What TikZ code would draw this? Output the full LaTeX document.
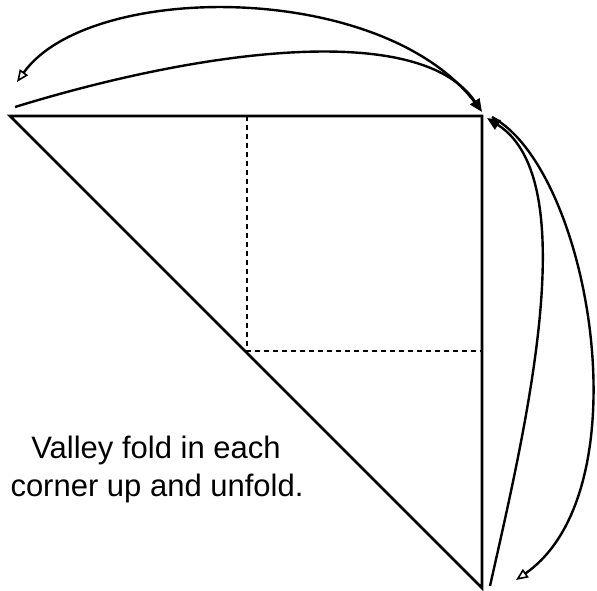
\documentclass[tikz,border=0pt]{standalone}
\usepackage{fontspec}
\setmainfont{Liberation Sans}
\usetikzlibrary{arrows.meta}
\begin{document}
\begin{tikzpicture}[x=1pt,y=-1pt,
  edge/.style={line width=2.8pt, line join=miter},
  fold/.style={line width=2.2pt, dash pattern=on 5pt off 4pt},
  arr/.style={line width=2.4pt, -{Triangle[length=13pt,width=11pt]}},
  oarr/.style={line width=2.4pt, -{Triangle[open,length=12pt,width=10pt,fill=white,line width=1.6pt]}},
  lbl/.style={font=\fontsize{31}{38}\selectfont, anchor=base, inner sep=0pt}]
\useasboundingbox (0,0) rectangle (597,591);
\coordinate (TL) at (10,116);
\coordinate (TR) at (482,116);
\coordinate (BR) at (482,588);
\coordinate (M) at (247,351);
\coordinate (MT) at (247,116);
\coordinate (MR) at (482,351);
% folds
\draw[fold] (MT) -- (M) -- (MR);
% triangle
\draw[edge] (TL) -- (TR) -- (BR) -- cycle;
% top arrows
\coordinate (a1s) at (15,107);
\coordinate (a1e) at (482,112);
\coordinate (a2s) at (479,108);
\coordinate (a2e) at (17,82);
\draw[arr] (a1s) .. controls (200,50) and (420,20) .. (a1e);
\draw[oarr] (a2s) .. controls (390,-20) and (90,-20) .. (a2e);
% right arrows
\coordinate (b1s) at (490,586);
\coordinate (b1e) at (487,118);
\coordinate (b2s) at (492,117);
\coordinate (b2e) at (516,580);
\draw[arr] (b1s) .. controls (525,430) and (585,180) .. (b1e);
\draw[oarr] (b2s) .. controls (590,170) and (645,490) .. (b2e);
% text
\node[lbl] (t1) at (156,458) {Valley fold in each};
\node[lbl] (t2) at (157,496) {corner up and unfold.};
\end{tikzpicture}
\end{document}
